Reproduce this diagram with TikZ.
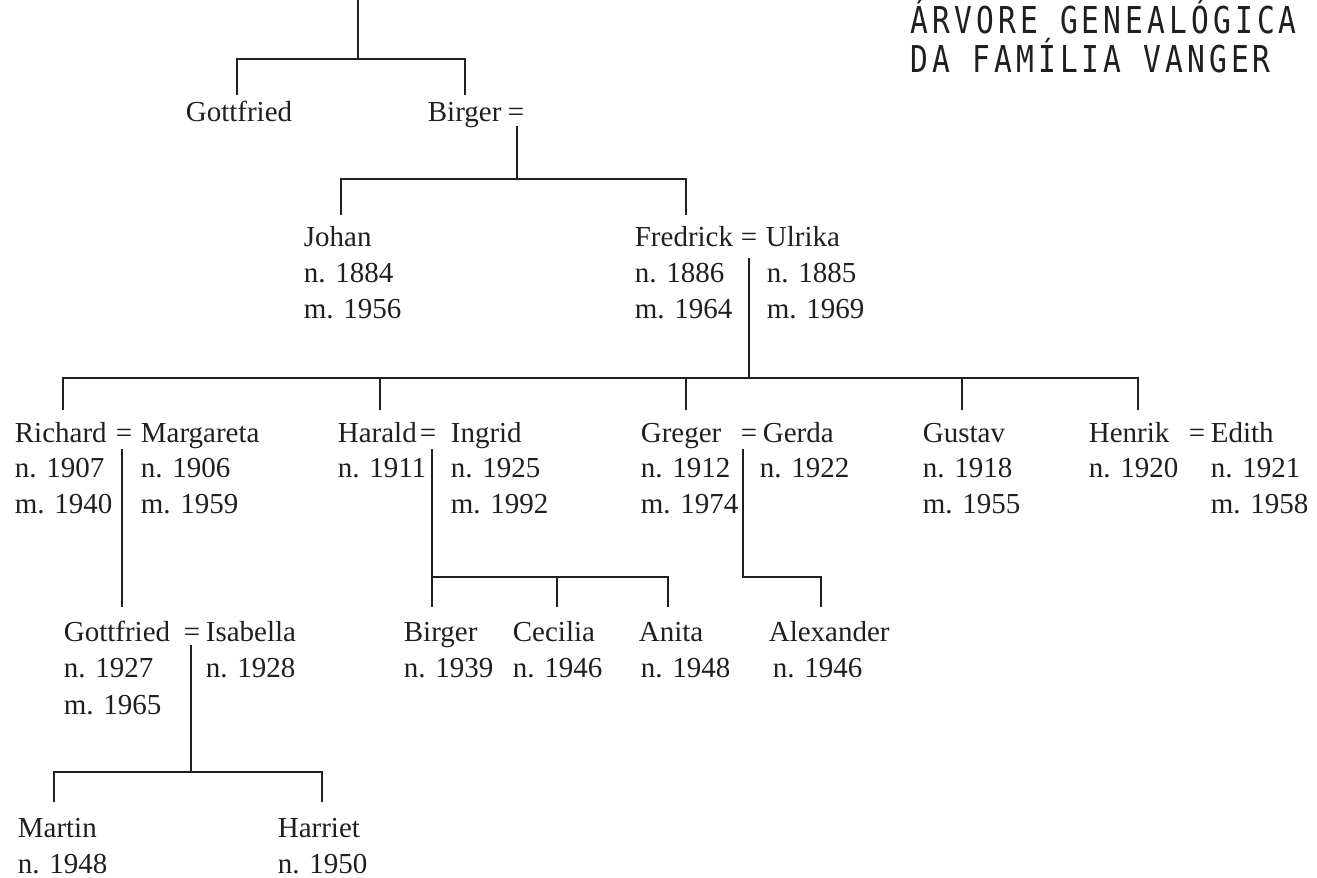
\documentclass[tikz,border=0pt]{standalone}
\usepackage{fontspec}
\setmainfont{Liberation Serif}
\newfontfamily\titlefont[FakeStretch=0.8,LetterSpace=11]{DejaVu Sans Mono}
\begin{document}
\begin{tikzpicture}[x=1pt,y=-1pt,line width=1.7pt,color=black!88,
  nome/.style={anchor=base west,inner sep=0pt,font=\fontsize{29}{36}\selectfont},
  titulo/.style={anchor=base west,inner sep=0pt,font=\titlefont\fontsize{37}{40}\selectfont}]
\useasboundingbox (0,0) rectangle (1317,878);
\node[titulo] (tit1) at (910,33) {ÁRVORE\hspace{21.9pt}GENEALÓGICA};
\node[titulo] (tit2) at (910,72) {DA\hspace{21.9pt}FAMÍLIA\hspace{21.9pt}VANGER};

\node[nome] (gottfried1) at (185,121) {Gottfried};
\node[nome] (birger1) at (427,121) {Birger};
\node[nome] (eqA) at (507,121) {=};

\node[nome] (johan) at (303,246) {Johan};
\node[nome] (johan-n) at (303,282) {n. 1884};
\node[nome] (johan-m) at (303,318) {m. 1956};
\node[nome] (fredrick) at (634,246) {Fredrick};
\node[nome] (eqB) at (740,246) {=};
\node[nome] (ulrika) at (765,246) {Ulrika};
\node[nome] (fredrick-n) at (634,282) {n. 1886};
\node[nome] (fredrick-m) at (634,318) {m. 1964};
\node[nome] (ulrika-n) at (766,282) {n. 1885};
\node[nome] (ulrika-m) at (766,318) {m. 1969};

\node[nome] (richard) at (14,442) {Richard};
\node[nome] (eqC) at (115,442) {=};
\node[nome] (margareta) at (140,442) {Margareta};
\node[nome] (richard-n) at (14,477) {n. 1907};
\node[nome] (richard-m) at (14,513) {m. 1940};
\node[nome] (margareta-n) at (140,477) {n. 1906};
\node[nome] (margareta-m) at (140,513) {m. 1959};

\node[nome] (harald) at (337,442) {Harald};
\node[nome] (eqD) at (419,442) {=};
\node[nome] (ingrid) at (450,442) {Ingrid};
\node[nome] (harald-n) at (337,477) {n. 1911};
\node[nome] (ingrid-n) at (450,477) {n. 1925};
\node[nome] (ingrid-m) at (450,513) {m. 1992};

\node[nome] (greger) at (640,442) {Greger};
\node[nome] (eqE) at (740,442) {=};
\node[nome] (gerda) at (762,442) {Gerda};
\node[nome] (greger-n) at (640,477) {n. 1912};
\node[nome] (greger-m) at (640,513) {m. 1974};
\node[nome] (gerda-n) at (759,477) {n. 1922};

\node[nome] (gustav) at (922,442) {Gustav};
\node[nome] (gustav-n) at (922,477) {n. 1918};
\node[nome] (gustav-m) at (922,513) {m. 1955};

\node[nome] (henrik) at (1088,442) {Henrik};
\node[nome] (eqF) at (1188,442) {=};
\node[nome] (edith) at (1210,442) {Edith};
\node[nome] (henrik-n) at (1088,477) {n. 1920};
\node[nome] (edith-n) at (1210,477) {n. 1921};
\node[nome] (edith-m) at (1210,513) {m. 1958};

\node[nome] (gottfried2) at (63,641) {Gottfried};
\node[nome] (eqG) at (183,641) {=};
\node[nome] (isabella) at (205,641) {Isabella};
\node[nome] (gottfried2-n) at (63,677) {n. 1927};
\node[nome] (gottfried2-m) at (63,714) {m. 1965};
\node[nome] (isabella-n) at (205,677) {n. 1928};

\node[nome] (birger2) at (403,641) {Birger};
\node[nome] (birger2-n) at (403,677) {n. 1939};
\node[nome] (cecilia) at (512,641) {Cecilia};
\node[nome] (cecilia-n) at (512,677) {n. 1946};
\node[nome] (anita) at (638,641) {Anita};
\node[nome] (anita-n) at (640,677) {n. 1948};
\node[nome] (alexander) at (768,641) {Alexander};
\node[nome] (alexander-n) at (772,677) {n. 1946};

\node[nome] (martin) at (17,837) {Martin};
\node[nome] (martin-n) at (17,873) {n. 1948};
\node[nome] (harriet) at (277,837) {Harriet};
\node[nome] (harriet-n) at (277,873) {n. 1950};

\coordinate (t0) at (358,0);
\coordinate (t1) at (358,59);
\coordinate (t1a) at (237,95);
\coordinate (t1b) at (465,95);
\draw (t0) -- (t1);
\draw (t1a) -- (t1a |- t1) -- (t1b |- t1) -- (t1b);

\coordinate (u1) at (517,126);
\coordinate (u2) at (517,179);
\coordinate (u2a) at (341,215);
\coordinate (u2b) at (686,215);
\draw (u1) -- (u2);
\draw (u2a) -- (u2a |- u2) -- (u2b |- u2) -- (u2b);

\coordinate (f1) at (749,258);
\coordinate (f2) at (749,378);
\coordinate (f2a) at (63,410);
\coordinate (f2b) at (380,410);
\coordinate (f2c) at (686,410);
\coordinate (f2d) at (962,410);
\coordinate (f2e) at (1138,410);
\draw (f1) -- (f2);
\draw (f2a) -- (f2a |- f2) -- (f2e |- f2) -- (f2e);
\draw (f2b) -- (f2b |- f2);
\draw (f2c) -- (f2c |- f2);
\draw (f2d) -- (f2d |- f2);

\coordinate (r1) at (122,449);
\coordinate (r2) at (122,607);
\draw (r1) -- (r2);

\coordinate (h1) at (432,449);
\coordinate (h2) at (432,577);
\coordinate (h2a) at (432,607);
\coordinate (h2b) at (557,607);
\coordinate (h2c) at (668,607);
\draw (h1) -- (h2a);
\draw (h2) -- (h2c |- h2) -- (h2c);
\draw (h2b) -- (h2b |- h2);

\coordinate (g1) at (743,449);
\coordinate (g2) at (743,577);
\coordinate (g2a) at (821,607);
\draw (g1) -- (g2) -- (g2a |- g2) -- (g2a);

\coordinate (k1) at (191,645);
\coordinate (k2) at (191,772);
\coordinate (k2a) at (54,802);
\coordinate (k2b) at (322,802);
\draw (k1) -- (k2);
\draw (k2a) -- (k2a |- k2) -- (k2b |- k2) -- (k2b);
\end{tikzpicture}
\end{document}
